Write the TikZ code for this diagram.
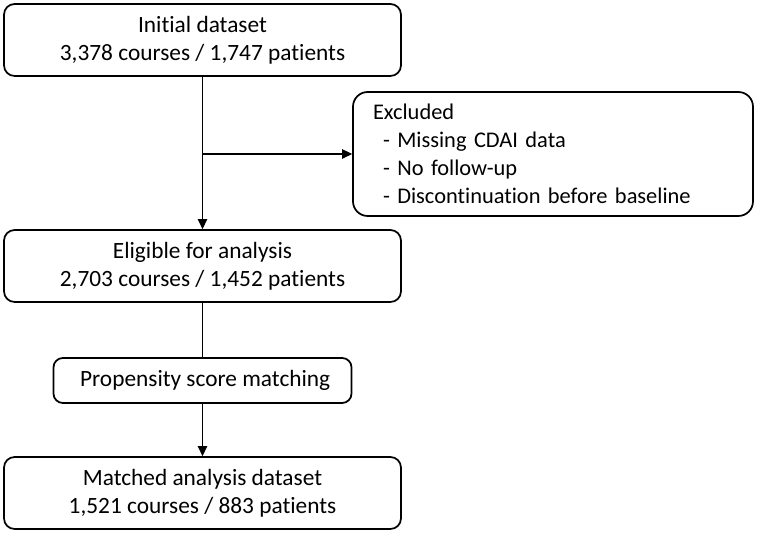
\documentclass[tikz,border=0pt]{standalone}
\usepackage{fontspec}
\setmainfont{Carlito}[Ligatures=NoCommon]
\usetikzlibrary{arrows.meta}
\begin{document}
\begin{tikzpicture}[x=0.75pt,y=-0.75pt,
  box/.style={draw, line width=1.3pt, rounded corners=8pt, align=center, inner sep=0pt,
    font=\fontsize{17.5}{21}\selectfont},
  conn/.style={line width=1.3pt},
  arr/.style={conn, -{Triangle[length=7.5pt,width=7pt]}}]
\useasboundingbox (0,0) rectangle (758,534);
\node[box, minimum width=297.75pt, minimum height=54pt] (a) at (202.5,40) {Initial dataset\\3,378 courses / 1,747 patients};
\node[box, minimum width=297.75pt, minimum height=54pt] (b) at (202.5,266) {Eligible for analysis\\2,703 courses / 1,452 patients};
\node[box, minimum width=223.5pt, minimum height=33.75pt, rounded corners=7pt] (p) at (202.5,380.5) {\hspace*{4pt}Propensity score matching};
\node[box, minimum width=297.75pt, minimum height=54pt] (c) at (202.5,493) {Matched analysis dataset\\1,521 courses / 883 patients};
\node[box, align=left, text width=270pt, inner xsep=15pt, minimum height=93pt, rounded corners=11pt,
  font=\fontsize{16.8}{21}\selectfont] (ex) at (553,154)
  {Excluded\\\hspace*{7.5pt}- Missing CDAI data\\\hspace*{7.5pt}- No follow-up\\\hspace*{7.5pt}- Discontinuation before baseline};
\coordinate (j) at (a.south |- ex.west);
\draw[arr] (a.south) -- (b.north);
\draw[arr] (j) -- (ex.west);
\draw[conn] (b.south) -- (p.north);
\draw[arr] (p.south) -- (c.north);
\end{tikzpicture}
\end{document}
